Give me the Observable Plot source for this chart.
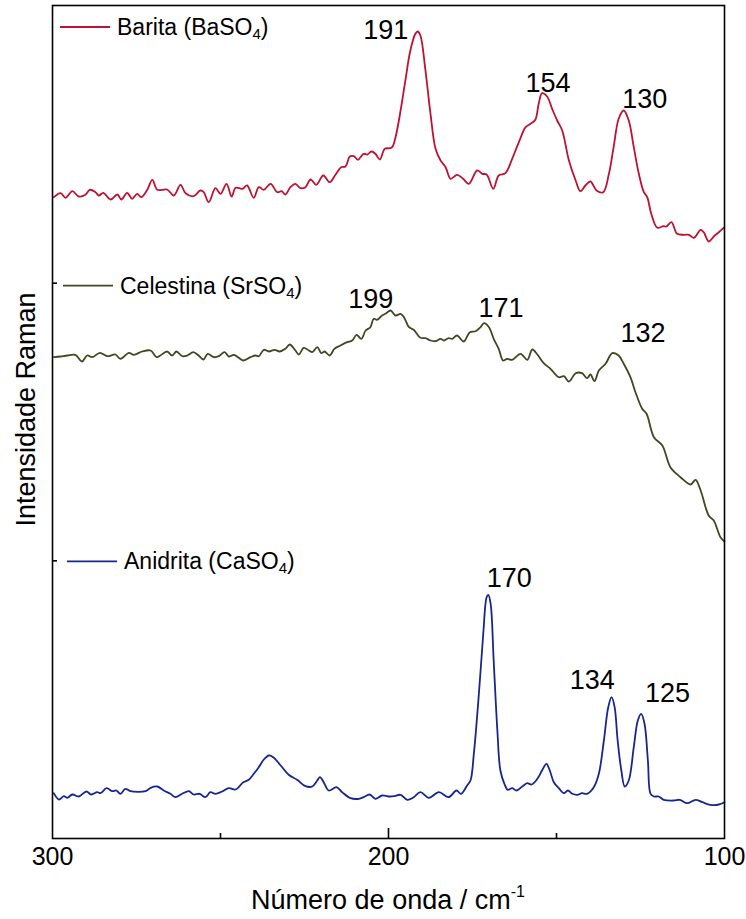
<!DOCTYPE html>
<html><head><meta charset="utf-8">
<script src="https://cdn.jsdelivr.net/npm/d3@7"></script>
<script src="https://cdn.jsdelivr.net/npm/@observablehq/plot@0.6"></script>
<style>
body{margin:0;background:#fff;}
#chart{width:746px;height:919px;}
</style></head><body><div id="chart"></div>
<script>
// ---------------- DATA ----------------
const seriesNames = ["Barita", "Celestina", "Anidrita"];
const seriesCations = ["Ba", "Sr", "Ca"];
const xTicks = [300, 200, 100];
const xMajorInner = [200];
const xMinorInner = [250, 150];

const wnBarita = [299.6,297.6,296.1,294.1,292.2,290.2,288.9,287.2,286.2,284.9,282.7,280.7,279.5,277.8,276.3,274.8,273.6,271.8,270.3,268.8,265.9,263.9,261.9,260.4,258.0,256.0,255.0,253.5,251.5,250.0,248.2,246.7,245.5,243.5,242.1,240.1,238.6,237.1,235.1,233.1,231.8,230.7,229.2,227.7,226.2,224.7,223.2,221.5,219.4,217.5,215.8,214.1,212.8,211.5,210.3,209.1,207.4,206.3,205.1,203.9,202.6,201.1,199.6,
198.9,197.9,196.4,194.9,193.5,192.0,191.3,190.5,189.0,187.5,186.0,184.5,183.0,181.5,179.6,177.8,176.1,173.6,172.1,170.8,168.8,167.2,165.2,163.2,161.2,159.2,157.7,156.3,155.3,154.3,152.8,151.3,149.8,148.3,146.3,144.3,142.9,141.4,139.9,138.1,136.1,134.4,133.0,131.5,130.0,128.5,127.0,125.5,124.0,123.0,121.8,120.0,118.2,117.3,115.8,114.1,112.1,110.6,109.1,107.1,106.2,104.7,103.2,101.7,100.2];
const intBarita = [641.3,645.3,640.7,647.3,642,643.7,648.7,646.3,643,645.7,639,644,639,645.7,639.7,644.7,641.3,648.7,658.7,648.7,649,643,653.7,645.3,642.3,648,646.3,636.3,650.3,644.7,654.7,642,650.7,649.7,653,640.7,651.3,648.7,654.7,646.3,647.3,644,651.3,654.7,650.3,651.3,659,653.7,663,656.3,663.7,671.3,672,682,682.3,678.7,684.7,684,687,684.7,679,689.7,690.3,
691.3,701.3,728,759.7,788,804.7,807,803,768,724.7,689.7,678,671.3,659.7,663.7,659.7,654.7,668,664.7,664,649.7,663,665.3,679.7,696.3,711.3,714.7,718.7,734.7,745.3,742,729.7,718,708,678,658,647.3,653,657,648,646.3,664.7,691.3,719.7,728,718,691.3,664.7,646.3,641.3,624.7,610.7,612.3,612,616.3,604.7,603.7,603.7,600.7,608.7,606.3,597,602,606.3,610.7];

const wnCelestina = [299.6,297.6,295.6,293.2,291.2,289.7,288.2,285.9,283.7,281.3,279.8,277.3,275.8,273.3,270.8,269.0,267.9,265.9,264.4,263.1,261.4,259.9,258.1,256.5,255.1,253.8,252.0,250.5,248.8,247.5,246.0,243.2,241.1,239.6,238.6,237.1,235.6,233.9,232.4,230.7,229.4,227.7,226.7,225.2,223.7,222.7,221.2,220.0,219.0,217.5,216.1,214.3,212.3,210.8,209.5,208.1,
206.8,205.4,204.4,203.4,201.9,200.9,199.4,197.9,196.4,195.4,193.9,192.5,190.5,189.0,187.5,186.0,184.5,183.5,182.1,181.0,179.6,177.6,175.8,174.1,172.6,171.6,170.1,168.7,167.2,165.9,164.7,163.2,160.7,158.7,157.2,155.7,153.8,151.8,149.3,147.8,146.3,144.3,142.4,140.9,139.9,138.7,137.4,135.4,133.4,131.5,130.0,128.0,126.5,124.5,123.2,121.0,118.5,116.1,113.1,110.1,108.6,107.1,104.7,103.2,101.2,100.0];
const intCelestina = [481.3,482,483,483.7,477,483,481.3,485.7,482.3,484,479.7,485.7,483.7,487,488,481.3,483,487,483,487,482.3,483,486.3,483,479,484.7,481.3,482.3,486.3,482,483.7,478,481.3,483,482.3,488.7,487,488.7,487,489.7,494,488,484,490.7,488,486.3,491.3,485.3,487,483,489.7,493,496.3,498,503.7,499.7,
508,511.3,519.7,518.7,523,524.7,528,523,524.7,521.3,511.3,508.7,500.7,500.3,498,497.3,499.7,498,500.3,499.7,503,497,506.3,507.3,511.3,515.3,511.3,499.7,489.7,478,479.7,478.7,484.7,478.7,489,484,475.3,469.7,461.3,462.3,457,465.3,465.3,460.3,464,457.3,468,474.7,485.3,483,474.7,461.3,446.3,429.7,424.7,401.3,393,371.3,361.3,354,358.7,348,323,318,301.3,297];

const wnAnidrita = [299.6,298.1,296.6,295.6,294.1,292.2,289.9,288.5,286.7,285.7,283.9,282.2,281.0,279.8,278.3,276.8,272.3,270.8,268.8,266.9,264.9,263.4,261.4,259.4,258.0,256.2,254.5,253.0,251.5,249.5,247.5,245.5,243.2,241.6,240.1,238.6,237.1,235.6,234.3,232.1,229.7,227.2,224.7,222.7,221.2,220.4,219.3,217.8,215.5,213.8,211.3,208.8,207.4,205.6,203.9,201.9,199.6,198.4,196.4,194.4,192.5,190.5,188.0,185.0,182.1,179.8,178.4,176.6,175.6,174.6,173.1,171.8,170.8,170.3,169.6,168.7,167.6,166.7,165.5,164.5,163.2,161.9,160.2,158.7,157.4,155.7,154.3,153.0,152.0,150.8,149.3,147.8,146.6,145.3,143.8,142.4,140.9,138.9,137.4,135.9,134.6,133.6,132.7,131.8,130.7,129.7,128.5,127.0,125.8,124.8,123.8,122.8,122.0,121.0,119.6,118.1,115.1,113.3,111.1,108.6,106.6,104.2,101.7,100.0];
const intAnidrita = [45.3,39,42.3,40.7,44,42,47,44,46.3,45.3,50.3,47.3,48,44.7,49.7,47.3,47.3,50.7,52,48,44.7,41.3,44.7,47.3,44,44.7,41.3,46.3,44.7,47,50.3,49,56.3,58.7,64.7,71.3,79,83,81.3,73,63.7,58.7,52.3,52,58,61.3,56.3,48,51.3,46.3,40.3,39.7,41.3,44,39.7,43,42,42.3,43.7,38.7,41.3,46.3,40.7,46.3,41.3,48,44.7,53,58,84.7,144.7,204.7,241.3,243.7,234.7,178,108,68,54.7,48.7,50.3,48,52,55.3,54,59.7,68,74.7,68,56.3,50.3,45.3,48,44.7,43.7,45.3,44.7,51.3,64.7,98,131.3,141.3,131.3,98,68,52,58,91.3,118,124.7,114.7,78,44.7,42,42,38.7,38,38.7,35.3,38.7,36.3,33.7,34,36.3];

const peaksBarita = [191, 154, 130];
const peaksCelestina = [199, 171, 132];
const peaksAnidrita = [170, 134, 125];

// ---------------- LAYOUT / STYLE ----------------
const W = 746, H = 919;
const mT = 5, mB = 81, mL = 52, mR = 22;
const frameW = W - mL - mR, frameH = H - mT - mB;
const yMax = 833;                      // arbitrary intensity units (stacked)
const yInner = [yMax / 3, 2 * yMax / 3];
const FONT = "'Liberation Sans', Arial, Helvetica, sans-serif";
const colors = ["#bd1232", "#3f4822", "#18268f"];
const peakStyle = [
  [{dx: -33, dy: 6}, {dx: 5, dy: -2}, {dx: 21, dy: -3}],
  [{dx: -21, dy: -4}, {dx: 15, dy: -8}, {dx: 26, dy: -13}],
  [{dx: 20, dy: -12}, {dx: -18, dy: -12}, {dx: 27, dy: -13}]
];
const legendStyle = [
  {level: yMax, dy: 22, x0: 8, x1: 58, tx: 65},
  {level: 2 * yMax / 3, dy: 3, x0: 11, x1: 61, tx: 68},
  {level: yMax / 3, dy: 1, x0: 15, x1: 65, tx: 72}
];

const wnAll = [wnBarita, wnCelestina, wnAnidrita];
const intAll = [intBarita, intCelestina, intAnidrita];
const peaksAll = [peaksBarita, peaksCelestina, peaksAnidrita];

const rows = seriesNames.flatMap((name, s) =>
  wnAll[s].map((w, i) => ({series: name, wn: w, int: intAll[s][i]})));

function valueAt(wn, ints, w) {
  for (let i = 0; i < wn.length - 1; i++) {
    if (wn[i] >= w && w >= wn[i + 1]) {
      const t = (wn[i] - w) / (wn[i] - wn[i + 1]);
      return ints[i] + t * (ints[i + 1] - ints[i]);
    }
  }
  return ints[ints.length - 1];
}

const peakMarks = seriesNames.flatMap((name, s) =>
  peaksAll[s].map((p, k) => Plot.text([{wn: p, int: valueAt(wnAll[s], intAll[s], p)}], {
    x: "wn", y: "int", text: () => String(p),
    dx: peakStyle[s][k].dx, dy: peakStyle[s][k].dy,
    textAnchor: "middle", lineAnchor: "bottom",
    fontSize: 27, fill: "black", fontFamily: FONT
  })));

const chart = Plot.plot({
  width: W, height: H,
  marginTop: mT, marginBottom: mB, marginLeft: mL, marginRight: mR,
  style: {fontFamily: FONT, fontSize: "25px", background: "white", color: "black", overflow: "visible"},
  x: {domain: [300, 100]},
  y: {domain: [0, yMax], axis: null},
  color: {domain: seriesNames, range: colors},
  marks: [
    Plot.line(rows, {x: "wn", y: "int", z: "series", stroke: "series", strokeWidth: 1.8, curve: "catmull-rom"}),
    Plot.frame({stroke: "black", strokeWidth: 1.6}),
    Plot.tickX(xMajorInner, {insetTop: frameH - 10, stroke: "black", strokeWidth: 1.6}),
    Plot.tickX(xMinorInner, {insetTop: frameH - 5, stroke: "black", strokeWidth: 1.6}),
    Plot.tickY(yInner, {insetRight: frameW - 5, stroke: "black", strokeWidth: 1.6}),
    Plot.axisX({ticks: xTicks, tickSize: 0, tickPadding: 9, label: null, fontSize: 25, tickFormat: d => String(d)}),
    ...peakMarks
  ]
});

const svg = d3.select(chart);
const ys = chart.scale("y");

// Legend
seriesNames.forEach((name, s) => {
  const L = legendStyle[s];
  const y = ys.apply(L.level) + L.dy;
  svg.append("line")
    .attr("x1", mL + L.x0).attr("x2", mL + L.x1)
    .attr("y1", y).attr("y2", y)
    .attr("stroke", colors[s]).attr("stroke-width", 1.8);
  const t = svg.append("text")
    .attr("x", mL + L.tx).attr("y", y + 8)
    .attr("text-anchor", "start")
    .attr("font-family", FONT).attr("font-size", 23).attr("fill", "black");
  t.append("tspan").text(name + " (" + seriesCations[s] + "SO");
  t.append("tspan").attr("font-size", 15).attr("dy", 4).text("4");
  t.append("tspan").attr("dy", -4).text(")");
});

// X axis title
const xt = svg.append("text")
  .attr("x", mL + frameW / 2).attr("y", 909)
  .attr("text-anchor", "middle")
  .attr("font-family", FONT).attr("font-size", 27).attr("fill", "black");
xt.append("tspan").text("Número de onda / cm");
xt.append("tspan").attr("font-size", 16).attr("dy", -12).text("-1");

// Y axis title
svg.append("text")
  .attr("transform", `translate(35, ${mT + frameH / 2 - 12}) rotate(-90)`)
  .attr("text-anchor", "middle")
  .attr("font-family", FONT).attr("font-size", 27).attr("fill", "black")
  .text("Intensidade Raman");

document.getElementById("chart").appendChild(chart);
</script>
</body></html>
